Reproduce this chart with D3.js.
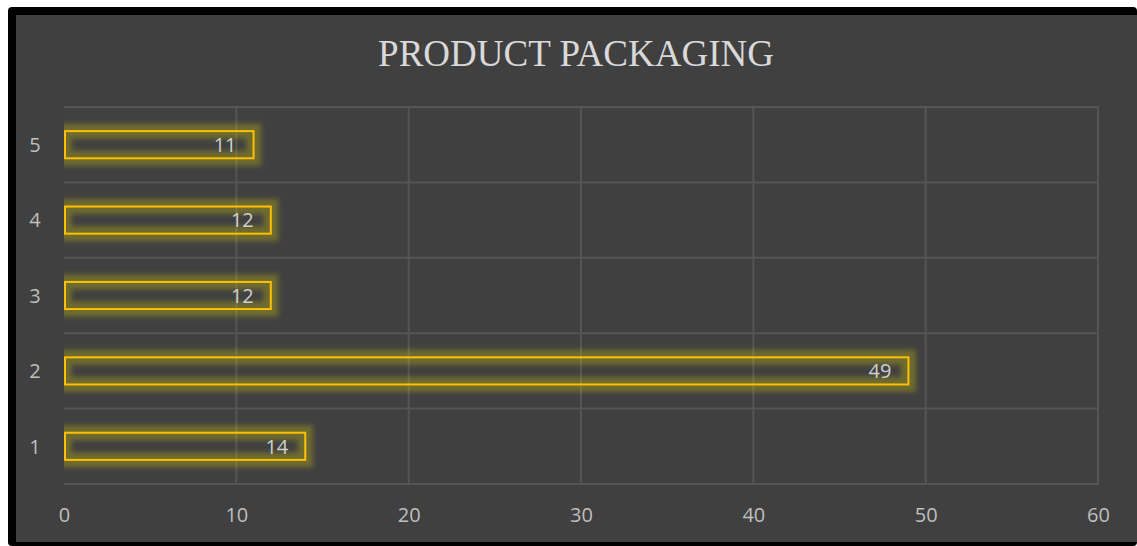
<!DOCTYPE html>
<html>
<head>
<meta charset="utf-8">
<script src="https://cdn.jsdelivr.net/npm/d3@7"></script>
<style>
  html, body { margin: 0; padding: 0; background: #ffffff; }
  svg { display: block; }
</style>
</head>
<body>
<svg id="chart" width="1137" height="546"></svg>
<script>
// Chart data
const categories = ["1", "2", "3", "4", "5"];
const values = [14, 49, 12, 12, 11];
const xTicks = [0, 10, 20, 30, 40, 50, 60];
const title = "PRODUCT PACKAGING";

const W = 1137, H = 546;
const svg = d3.select("#chart");

// Frame and chart background
svg.append("rect").attr("x", 8).attr("y", 7).attr("width", W - 8).attr("height", H - 7)
  .attr("rx", 4).attr("fill", "#000000");
svg.append("rect").attr("x", 16).attr("y", 15).attr("width", W - 16).attr("height", 527)
  .attr("fill", "#404040");

const plot = { left: 64, right: 1098, top: 107, bottom: 484 };

const x = d3.scaleLinear().domain([0, 60]).range([plot.left, plot.right]);
const y = d3.scaleBand().domain(categories.slice().reverse())
  .range([plot.top, plot.bottom]).paddingInner(0.64).paddingOuter(0.32);

// Glow filter
const defs = svg.append("defs");
const f = defs.append("filter").attr("id", "glow")
  .attr("x", "-20%").attr("y", "-100%").attr("width", "140%").attr("height", "300%");
f.append("feGaussianBlur").attr("stdDeviation", 2.6);
defs.append("clipPath").attr("id", "plotClip").append("rect")
  .attr("x", plot.left).attr("y", 0).attr("width", W - plot.left).attr("height", H);

// Gridlines
const grid = svg.append("g").attr("stroke", "#555555").attr("stroke-width", 2);
grid.selectAll("line.v").data(xTicks.filter(d => d > 0)).join("line")
  .attr("class", "v")
  .attr("x1", d => x(d)).attr("x2", d => x(d))
  .attr("y1", plot.top).attr("y2", plot.bottom);
const bandEdges = d3.range(categories.length + 1).map(i => plot.top + i * y.step());
grid.selectAll("line.h").data(bandEdges).join("line")
  .attr("class", "h")
  .attr("x1", plot.left).attr("x2", plot.right + 1)
  .attr("y1", d => d).attr("y2", d => d);

// Bars: soft glow behind a crisp outline
const bars = svg.append("g");
const rows = categories.map((c, i) => ({ c, v: values[i] }));

bars.append("g").attr("clip-path", "url(#plotClip)")
  .selectAll("rect").data(rows).join("rect")
  .attr("x", x(0)).attr("y", d => y(d.c))
  .attr("width", d => x(d.v) - x(0)).attr("height", y.bandwidth())
  .attr("fill", "none").attr("stroke", "#f0e000").attr("stroke-opacity", 0.27)
  .attr("stroke-width", 15).attr("filter", "url(#glow)");

bars.selectAll("rect.bar").data(rows).join("rect")
  .attr("class", "bar")
  .attr("x", x(0) + 1).attr("y", d => y(d.c))
  .attr("width", d => x(d.v) - x(0) - 1).attr("height", y.bandwidth())
  .attr("fill", "none").attr("stroke", "#ffc000").attr("stroke-width", 2);

// Value labels
svg.append("g").selectAll("text").data(rows).join("text")
  .attr("x", d => x(d.v) - 17)
  .attr("y", d => y(d.c) + y.bandwidth() / 2)
  .attr("dy", "0.36em")
  .attr("text-anchor", "end")
  .attr("font-family", "'Open Sans', sans-serif").attr("font-size", 20)
  .attr("fill", "#cfcfcf")
  .text(d => d.v);

// Axes
const xAxis = d3.axisBottom(x).tickValues(xTicks).tickSize(0).tickPadding(0);
const gx = svg.append("g").attr("transform", `translate(0, ${plot.bottom})`).call(xAxis);
gx.select(".domain").remove();
gx.selectAll("text").attr("y", 38).attr("dy", 0)
  .attr("font-family", "'Open Sans', sans-serif").attr("font-size", 20).attr("fill", "#bfbfbf");

const yAxis = d3.axisLeft(y).tickSize(0).tickPadding(0);
const gy = svg.append("g").attr("transform", `translate(${plot.left}, 0)`).call(yAxis);
gy.select(".domain").remove();
gy.selectAll("text").attr("x", -29).attr("text-anchor", "middle").attr("dy", "0.36em")
  .attr("font-family", "'Open Sans', sans-serif").attr("font-size", 20).attr("fill", "#bfbfbf");

// Title
svg.append("text").attr("x", 576).attr("y", 66).attr("text-anchor", "middle")
  .attr("font-family", "'Liberation Serif', 'Times New Roman', serif").attr("font-size", 37)
  .attr("fill", "#d9d9d9").text(title);
</script>
</body>
</html>
